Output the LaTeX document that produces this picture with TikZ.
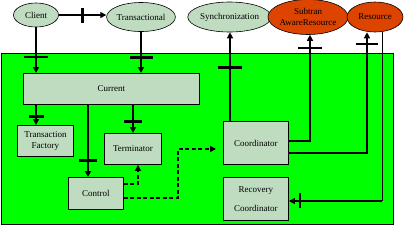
\documentclass[tikz,border=0pt]{standalone}
\usepackage{fontspec}
\setmainfont{Liberation Serif}
\usetikzlibrary{arrows.meta,shapes.geometric,calc}
\definecolor{money}{HTML}{C0DCC0}
\definecolor{bggreen}{HTML}{00FF00}
\definecolor{resred}{HTML}{DD4400}
\begin{document}
\begin{tikzpicture}[x=1pt,y=-1pt,
 txt/.style={font=\fontsize{9}{10.5}\selectfont},
 ell/.style={ellipse,draw,line width=0.6pt,fill=money,inner sep=0pt,txt},
 redell/.style={ell,fill=resred},
 box/.style={rectangle,draw,line width=0.9pt,fill=money,inner sep=0pt,txt,anchor=north west,align=center},
 conn/.style={line width=1.3pt,-{Triangle[length=6pt,width=6pt]}},
 dconn/.style={conn,dash pattern=on 4pt off 2.5pt,line width=1.5pt},
 hbar/.style={rectangle,fill=black,inner sep=0pt,minimum height=2.8pt,minimum width=#1},
 vbar/.style={rectangle,fill=black,inner sep=0pt,minimum width=2.8pt,minimum height=#1},
]
\fill[white] (0,0) rectangle (405,226);
\useasboundingbox (0,0) rectangle (405,226);

% system area
\node[draw,line width=0.9pt,fill=bggreen,anchor=north west,minimum width=392pt,minimum height=171pt,inner sep=0pt] (sys) at (1,53) {};

% ellipses
\node[ell,minimum width=45pt,minimum height=24pt] (cl) at (36,15) {Client};
\node[ell,minimum width=61pt,minimum height=29pt] (tr) at (141,17) {Transactional};
\node[ell,minimum width=69pt,minimum height=30pt] (sync) at (229.5,17) {Synchronization};
\node[redell,minimum width=70pt,minimum height=35pt,align=center] (sub) at (308,17) {Subtran\\AwareResource};
\node[redell,minimum width=56pt,minimum height=30pt] (res) at (375,17) {Resource};

% boxes
\node[box,minimum width=176pt,minimum height=31pt] (cur) at (23,73) {Current};
\node[box,minimum width=56pt,minimum height=31pt] (tf) at (17,125) {Transaction\\[1pt]Factory};
\node[box,minimum width=57pt,minimum height=31pt] (term) at (104,133) {Terminator};
\node[box,minimum width=55pt,minimum height=32pt] (ctl) at (68,177) {Control};
\node[box,minimum width=65pt,minimum height=43pt] (coord) at (223,121) {Coordinator};
\node[box,minimum width=65pt,minimum height=43pt] (rec) at (223,177) {Recovery\\[8pt]Coordinator};

% helper coordinates
\coordinate (xa) at (36,0);
\coordinate (xb) at (88,0);
\coordinate (xc) at (133,0);
\coordinate (xd) at (230,0);
\coordinate (xe) at (310,0);
\coordinate (xf) at (367,0);
\coordinate (xg) at (382,0);
\coordinate (xh) at (138,0);
\coordinate (xi) at (178,0);
\coordinate (ye) at (0,141);
\coordinate (yf) at (0,153);
\coordinate (yg) at (0,201);
\coordinate (y184) at (0,184);
\coordinate (y198) at (0,198);
\coordinate (y149) at (0,149);
\coordinate (gcorner) at (382,201);

% connectors
\draw[conn] (cl.east) -- (tr.west |- cl.east) node[vbar=15pt,pos=0.5] (b1) {};
\draw[conn] (cl.south) -- (cl.south |- cur.north) node[hbar=24pt,pos=0.65] (b2) {};
\draw[conn] (tr.south) -- (tr.south |- cur.north) node[hbar=23pt,pos=0.63] (b3) {};
\draw[conn] (cur.south -| xa) -- (tf.north -| xa) node[hbar=15pt,pos=0.57] (b4) {};
\draw[conn] (cur.south -| xb) -- (ctl.north -| xb) node[hbar=18pt,pos=0.77] (b5) {};
\draw[conn] (cur.south -| xc) -- (term.north -| xc) node[hbar=18pt,pos=0.59] (b6) {};
\draw[conn] (coord.north -| xd) -- (xd |- sync.south) node[hbar=24pt,pos=0.6] (b7) {};
\draw[conn] (coord.east |- ye) -| (xe |- sub.south);
\node[hbar=24pt] (b8) at (310,48) {};
\draw[conn] (coord.east |- yf) -| (xf |- res.south);
\node[hbar=22pt] (b9) at (367,44) {};
\draw[line width=0.7pt] (xg |- res.south) -- (gcorner);
\draw[conn,line width=1.1pt] (gcorner) -- (rec.east |- yg);
\node[vbar=15pt] (b10) at (300,200) {};

% dashed connectors
\draw[dconn] (ctl.east |- y184) -| (term.south -| xh);
\draw[dconn,shorten >=7pt] (ctl.east |- y198) -| (xi |- y149) -- (coord.west |- y149);
\end{tikzpicture}
\end{document}
